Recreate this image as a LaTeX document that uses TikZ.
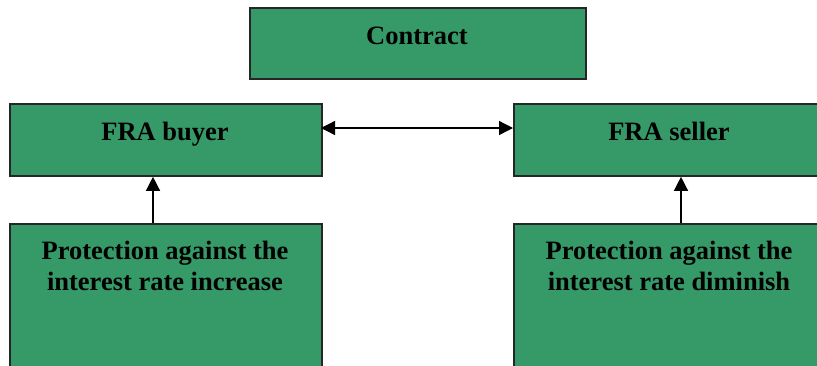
\documentclass[tikz,border=0pt]{standalone}
\usepackage{fontspec}
\setmainfont{Liberation Serif}
\usetikzlibrary{arrows.meta}
\definecolor{boxgreen}{HTML}{359A68}
\begin{document}
\begin{tikzpicture}[x=1pt,y=-1pt,
  gbox/.style={draw=black!85,line width=1.8pt,fill=boxgreen,rectangle,inner sep=0pt,anchor=north west},
  lbl/.style={font=\bfseries\fontsize{26.5}{31}\selectfont,align=center,inner sep=0pt},
  arr/.style={line width=1.3pt,-{Triangle[length=14pt,width=14pt]}},
  darr/.style={line width=1.3pt,{Triangle[length=14pt,width=14pt]}-{Triangle[length=14pt,width=14pt]}}]
\useasboundingbox (0,0) rectangle (817,365);
\begin{scope}
\clip (0,0) rectangle (817,365);
\node[gbox,minimum width=336pt,minimum height=71pt] (contract) at (249,7) {};
\node[gbox,minimum width=312pt,minimum height=72pt] (buyer) at (9,103) {};
\node[gbox,minimum width=320pt,minimum height=72pt] (seller) at (513,103) {};
\node[gbox,minimum width=312pt,minimum height=160pt] (pbuy) at (9,223) {};
\node[gbox,minimum width=320pt,minimum height=160pt] (psell) at (513,223) {};
\end{scope}
\node[lbl,anchor=base] (contractt) at (417,44) {Contract};
\node[lbl,anchor=base] (buyert) at (165,140) {FRA buyer};
\node[lbl,anchor=base] (sellert) at (669,140) {FRA seller};
\node[lbl] (pbuyt) at (165,266) {Protection against the\\interest rate increase};
\node[lbl] (psellt) at (669,266) {Protection against the\\interest rate diminish};
\coordinate (be) at (321,128);
\coordinate (sw) at (513,128);
\draw[darr] (be) -- (sw);
\draw[arr] (pbuy.north -| 153,0) -- (buyer.south -| 153,0);
\draw[arr] (psell.north -| 681,0) -- (seller.south -| 681,0);
\end{tikzpicture}
\end{document}
